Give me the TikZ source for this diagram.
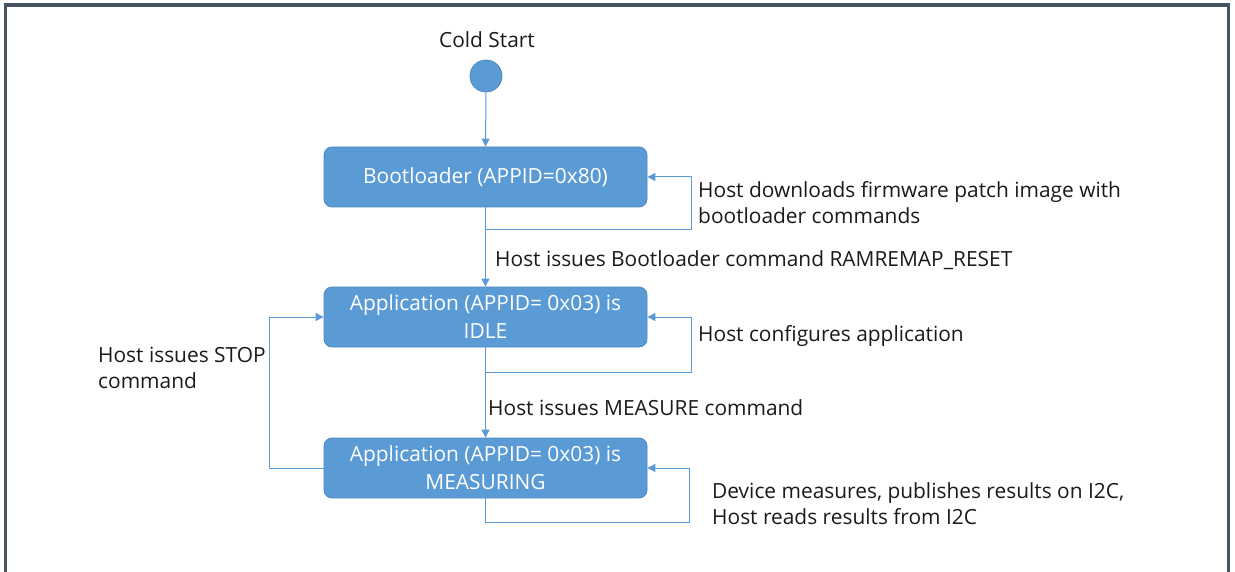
\documentclass[tikz,border=0pt]{standalone}
\usepackage{fontspec}
\setmainfont{Open Sans}
\usetikzlibrary{arrows.meta}
\definecolor{boxblue}{HTML}{5B9BD5}
\definecolor{boxedge}{HTML}{4F88BE}
\definecolor{frame}{HTML}{47535E}
\definecolor{txt}{HTML}{1A1A1A}
\tikzset{
  state/.style={draw=boxedge, line width=0.8pt, fill=boxblue, rounded corners=8pt,
    minimum width=323pt, minimum height=60pt, inner sep=0pt, align=center,
    text=white, font=\fontsize{20.9}{28}\selectfont},
  lbl/.style={inner sep=0pt, align=left, text=txt, font=\fontsize{20.9}{26}\selectfont},
  arr/.style={draw=boxblue, line width=1pt, -{Triangle[length=8pt,width=8pt]}},
}
\begin{document}
\begin{tikzpicture}[x=1pt,y=-1pt]
\useasboundingbox (0,0) rectangle (1235,572);
\draw[frame, line width=3.5pt] (5.5,580) -- (5.5,5) -- (1228.5,5) -- (1228.5,580);

\node[lbl, anchor=center] (cold) at (487,40) {Cold Start};
\node[circle, fill=boxblue, draw=boxedge, line width=0.8pt, minimum size=32pt, inner sep=0pt] (cs) at (486,76) {};

\node[state] (boot) at (485.5,177) {Bootloader (APPID=0x80)};
\node[state] (idle) at (485.5,317) {Application (APPID= 0x03) is\\IDLE};
\node[state] (meas) at (485.5,468) {Application (APPID= 0x03) is\\MEASURING};

\coordinate (b1) at (691,230);
\coordinate (i1) at (691,372);
\coordinate (m1) at (689,522);
\coordinate (s1) at (269,468);

\draw[arr] (cs.south) -- (boot.north);
\draw[arr] (boot.south) -- (idle.north);
\draw[arr] (boot.south |- b1) -- (b1) |- (boot.east);
\draw[arr] (idle.south) -- (meas.north);
\draw[arr] (idle.south |- i1) -- (i1) |- (idle.east);
\draw[arr] (meas.south) |- (m1) |- (meas.east);
\draw[arr] (meas.west) -- (s1) |- (idle.west);

\node[lbl, anchor=west] (t1) at (698,203) {Host downloads firmware patch image with\\bootloader commands};
\node[lbl, anchor=west] (t2) at (495,260) {Host issues Bootloader command RAMREMAP\_RESET};
\node[lbl, anchor=west] (t3) at (698,336) {Host configures application};
\node[lbl, anchor=west] (t4) at (488,408) {Host issues MEASURE command};
\node[lbl, anchor=west] (t5) at (98,368) {Host issues STOP\\command};
\node[lbl, anchor=west] (t6) at (712,504) {Device measures, publishes results on I2C,\\Host reads results from I2C};
\end{tikzpicture}
\end{document}
